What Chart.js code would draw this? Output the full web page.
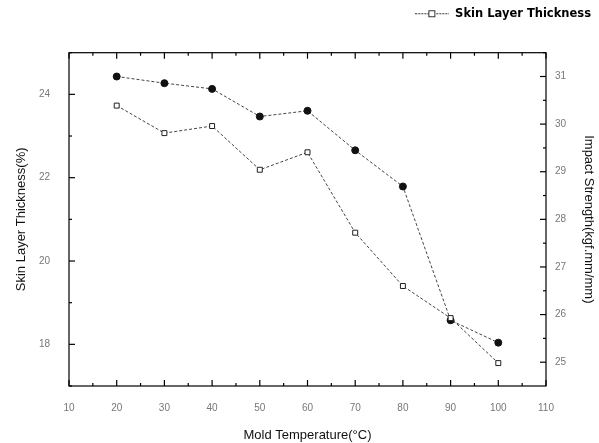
<!DOCTYPE html>
<html>
<head>
<meta charset="utf-8">
<script src="https://cdn.jsdelivr.net/npm/chart.js@4"></script>
<style>
    html, body { margin: 0; padding: 0; background: #fff; }
    #wrap { width: 599px; height: 443px; position: relative; }
</style>
</head>
<body>
<div id="wrap"><canvas id="chart"></canvas></div>
<script>
// --- Data ---
const temps = [20, 30, 40, 50, 60, 70, 80, 90, 100];
const skinThickness = [23.73, 23.07, 23.24, 22.19, 22.61, 20.68, 19.40, 18.63, 17.55];
const impactStrength = [31.0, 30.86, 30.74, 30.16, 30.28, 29.45, 28.69, 25.88, 25.41];
const xTicks = [10, 20, 30, 40, 50, 60, 70, 80, 90, 100, 110];
const leftTicks = [18, 20, 22, 24];
const rightTicks = [25, 26, 27, 28, 29, 30, 31];

// legend icon: dashed line with open square
function legendIcon() {
    const c = document.createElement('canvas');
    c.width = 34; c.height = 9;
    const g = c.getContext('2d');
    g.strokeStyle = '#333';
    g.lineWidth = 1;
    g.setLineDash([2, 1]);
    g.beginPath();
    g.moveTo(0, 4.5); g.lineTo(34, 4.5);
    g.stroke();
    g.setLineDash([]);
    g.fillStyle = '#fff';
    g.fillRect(13.5, 1.5, 6, 6);
    g.strokeRect(13.5, 1.5, 6, 6);
    return c;
}

// --- Inward ticks + frame ---
const frameTicks = {
    id: 'frameTicks',
    afterDraw(chart) {
        const { ctx, chartArea: a, scales } = chart;
        ctx.save();
        ctx.strokeStyle = '#000';
        ctx.lineWidth = 1.2;
        ctx.strokeRect(a.left, a.top, a.right - a.left, a.bottom - a.top);

        const x = scales.x;
        xTicks.forEach(v => {
            const px = x.getPixelForValue(v);
            ctx.beginPath();
            ctx.moveTo(px, a.bottom); ctx.lineTo(px, a.bottom - 6);
            ctx.moveTo(px, a.top); ctx.lineTo(px, a.top + 6);
            ctx.stroke();
            if (v < 110) {
                const pm = x.getPixelForValue(v + 5);
                ctx.beginPath();
                ctx.moveTo(pm, a.bottom); ctx.lineTo(pm, a.bottom - 3);
                ctx.moveTo(pm, a.top); ctx.lineTo(pm, a.top + 3);
                ctx.stroke();
            }
        });

        const yl = scales.yL;
        leftTicks.forEach(v => {
            const py = yl.getPixelForValue(v);
            ctx.beginPath();
            ctx.moveTo(a.left, py); ctx.lineTo(a.left + 6, py);
            ctx.stroke();
        });
        [17, 19, 21, 23, 25].forEach(v => {
            const py = yl.getPixelForValue(v);
            ctx.beginPath();
            ctx.moveTo(a.left, py); ctx.lineTo(a.left + 3, py);
            ctx.stroke();
        });

        const yr = scales.yR;
        rightTicks.forEach(v => {
            const py = yr.getPixelForValue(v);
            ctx.beginPath();
            ctx.moveTo(a.right, py); ctx.lineTo(a.right - 6, py);
            ctx.stroke();
            const pm = yr.getPixelForValue(v + 0.5);
            ctx.beginPath();
            ctx.moveTo(a.right, pm); ctx.lineTo(a.right - 3, pm);
            ctx.stroke();
        });
        ctx.restore();
    }
};

const tickFont = { family: 'Liberation Sans, Arial, sans-serif', size: 10 };
const titleFont = { family: 'Liberation Sans, Arial, sans-serif', size: 13 };

new Chart(document.getElementById('chart'), {
    type: 'line',
    data: {
        labels: temps,
        datasets: [{
            label: 'Skin Layer Thickness',
            data: temps.map((t, i) => ({ x: t, y: skinThickness[i] })),
            yAxisID: 'yL',
            borderColor: '#444',
            borderWidth: 1,
            borderDash: [3, 2],
            pointStyle: 'rect',
            pointRadius: 3.5,
            pointBackgroundColor: '#fff',
            pointBorderColor: '#222',
            pointBorderWidth: 1,
            tension: 0
        }, {
            label: 'Impact Strength',
            data: temps.map((t, i) => ({ x: t, y: impactStrength[i] })),
            yAxisID: 'yR',
            borderColor: '#444',
            borderWidth: 1,
            borderDash: [3, 2],
            pointStyle: 'circle',
            pointRadius: 3.5,
            pointBackgroundColor: '#111',
            pointBorderColor: '#111',
            pointBorderWidth: 1,
            tension: 0
        }]
    },
    options: {
        responsive: true,
        maintainAspectRatio: false,
        animation: false,
        layout: { padding: { top: 0, right: 0, bottom: 0, left: 0 } },
        plugins: {
            tooltip: { enabled: false },
            legend: {
                position: 'top',
                align: 'end',
                labels: {
                    filter: item => item.datasetIndex === 0,
                    usePointStyle: true,
                    pointStyle: legendIcon(),
                    pointStyleWidth: 34,
                    color: '#000',
                    font: { family: 'DejaVu Sans, sans-serif', size: 11.5, weight: 'bold' },
                    padding: 8
                }
            },
            // empty spacer between legend and plot
            title: {
                display: true,
                text: ' ',
                weight: 500,
                font: { size: 1 },
                padding: { top: 0, bottom: 22 }
            }
        },
        scales: {
            x: {
                type: 'linear',
                min: 10,
                max: 110,
                afterBuildTicks: s => { s.ticks = xTicks.map(v => ({ value: v })); },
                afterFit: s => { s.height = 57; },
                grid: { display: false },
                border: { display: false },
                ticks: { color: '#777', font: tickFont, padding: 8, maxRotation: 0 },
                title: { display: true, text: 'Mold Temperature(°C)', color: '#111', font: titleFont, padding: { top: 10, bottom: 0 } }
            },
            yL: {
                type: 'linear',
                position: 'left',
                min: 17,
                max: 25,
                afterBuildTicks: s => { s.ticks = leftTicks.map(v => ({ value: v })); },
                afterFit: s => { s.width = 69; },
                grid: { display: false },
                border: { display: false },
                ticks: { color: '#777', font: tickFont, padding: 11 },
                title: { display: true, text: 'Skin Layer Thickness(%)', color: '#111', font: titleFont, padding: { top: 14, bottom: 0 } }
            },
            yR: {
                type: 'linear',
                position: 'right',
                min: 24.5,
                max: 31.5,
                afterBuildTicks: s => { s.ticks = rightTicks.map(v => ({ value: v })); },
                afterFit: s => { s.width = 53; },
                grid: { display: false },
                border: { display: false },
                ticks: { color: '#777', font: tickFont, padding: 1 },
                title: { display: true, text: 'Impact Strength(kgf.mm/mm)', color: '#111', font: titleFont, padding: { top: 3, bottom: 0 } }
            }
        }
    },
    plugins: [frameTicks]
});
</script>
</body>
</html>
